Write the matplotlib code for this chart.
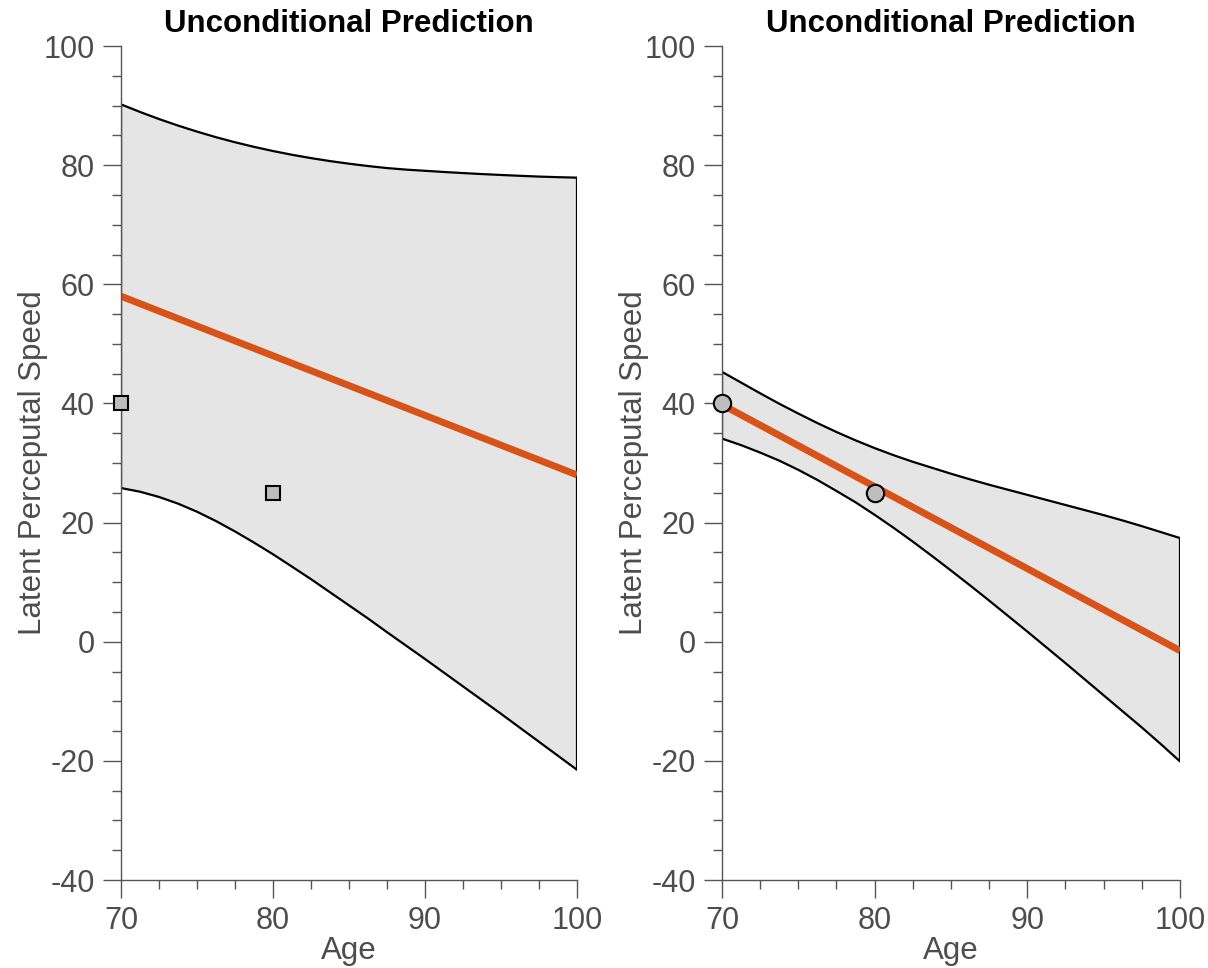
import matplotlib
matplotlib.use("Agg")
import matplotlib.pyplot as plt
from matplotlib.ticker import MultipleLocator

plt.rcParams['font.family'] = ['Liberation Sans', 'DejaVu Sans']
plt.rcParams['axes.unicode_minus'] = False

# ---- data ----
ages = [70, 71.25, 72.5, 73.75, 75, 76.25, 77.5, 78.75, 80, 81.25, 82.5, 83.75, 85,
        86.25, 87.5, 88.75, 90, 91.25, 92.5, 93.75, 95, 96.25, 97.5, 98.75, 100]

left_upper = [90.2, 88.93, 87.74, 86.64, 85.63, 84.69, 83.84, 83.07, 82.37, 81.74,
              81.18, 80.68, 80.24, 79.85, 79.51, 79.25, 79.05, 78.85, 78.67, 78.5,
              78.35, 78.21, 78.08, 77.98, 77.9]
left_lower = [25.8, 25.18, 24.3, 23.18, 21.82, 20.25, 18.51, 16.64, 14.68, 12.6,
              10.5, 8.3, 6.1, 3.9, 1.6, -0.65, -2.9, -5.2, -7.5, -9.8,
              -12.1, -14.45, -16.8, -19.15, -21.5]
left_line_age = [70, 100]
left_line_val = [58.0, 28.0]
left_obs_age = [70, 80]
left_obs_val = [40, 25]

right_upper = [45.3, 43.5, 41.7, 39.95, 38.3, 36.7, 35.2, 33.8, 32.5, 31.3,
               30.2, 29.2, 28.2, 27.25, 26.35, 25.5, 24.65, 23.8, 22.95, 22.1,
               21.25, 20.35, 19.4, 18.4, 17.4]
right_lower = [34.1, 33.0, 31.75, 30.4, 28.85, 27.15, 25.3, 23.4, 21.3, 19.1,
               16.8, 14.4, 11.95, 9.45, 6.9, 4.3, 1.7, -0.95, -3.6, -6.3,
               -9.0, -11.7, -14.4, -17.2, -20.1]
right_line_age = [70, 100]
right_line_val = [39.8, -1.5]
right_obs_age = [70, 80]
right_obs_val = [40, 25]

title_text = "Unconditional Prediction"
xlabel_text = "Age"
ylabel_text = "Latent Perceputal Speed"

ORANGE = "#D95319"
BAND = "#E5E5E5"
MARKER_FACE = "#BDBDBD"
AXIS_GRAY = "#555555"
TEXT_GRAY = "#4D4D4D"

fig = plt.figure(figsize=(12.08, 9.68), dpi=100)
ax1 = fig.add_axes([121/1208, 88/968, 456/1208, 834/968])
ax2 = fig.add_axes([722/1208, 88/968, 458/1208, 834/968])


def draw(ax, upper, lower, lage, lval, oage, oval, marker, msize):
    xs = list(ages) + list(ages[::-1])
    ys = list(upper) + list(lower[::-1])
    ax.fill(xs, ys, facecolor=BAND, edgecolor='black', linewidth=1.6,
            joinstyle='round', zorder=1)
    ax.plot(lage, lval, color=ORANGE, linewidth=5, solid_capstyle='butt', zorder=2)
    ax.plot(oage, oval, linestyle='none', marker=marker, markersize=msize,
            markerfacecolor=MARKER_FACE, markeredgecolor='black',
            markeredgewidth=1.5, zorder=3, clip_on=False)
    ax.set_xlim(70, 100)
    ax.set_ylim(-40, 100)
    ax.xaxis.set_major_locator(MultipleLocator(10))
    ax.xaxis.set_minor_locator(MultipleLocator(2.5))
    ax.yaxis.set_major_locator(MultipleLocator(20))
    ax.yaxis.set_minor_locator(MultipleLocator(5))
    for s in ['top', 'right']:
        ax.spines[s].set_visible(False)
    for s in ['left', 'bottom']:
        ax.spines[s].set_color(AXIS_GRAY)
        ax.spines[s].set_linewidth(1.0)
    ax.tick_params(which='major', direction='out', length=13, width=1.0,
                   color=AXIS_GRAY, labelcolor=TEXT_GRAY, labelsize=22, pad=6)
    ax.tick_params(which='minor', direction='out', length=6.5, width=1.0,
                   color=AXIS_GRAY)
    ax.set_title(title_text, fontsize=22.5, fontweight='bold', pad=10)
    ax.set_xlabel(xlabel_text, fontsize=22.5, color=TEXT_GRAY, labelpad=0)
    ax.set_ylabel(ylabel_text, fontsize=22.5, color=TEXT_GRAY, labelpad=-3)


draw(ax1, left_upper, left_lower, left_line_age, left_line_val,
     left_obs_age, left_obs_val, 's', 10.5)
draw(ax2, right_upper, right_lower, right_line_age, right_line_val,
     right_obs_age, right_obs_val, 'o', 12.5)

fig.savefig("out.png", dpi=100)
